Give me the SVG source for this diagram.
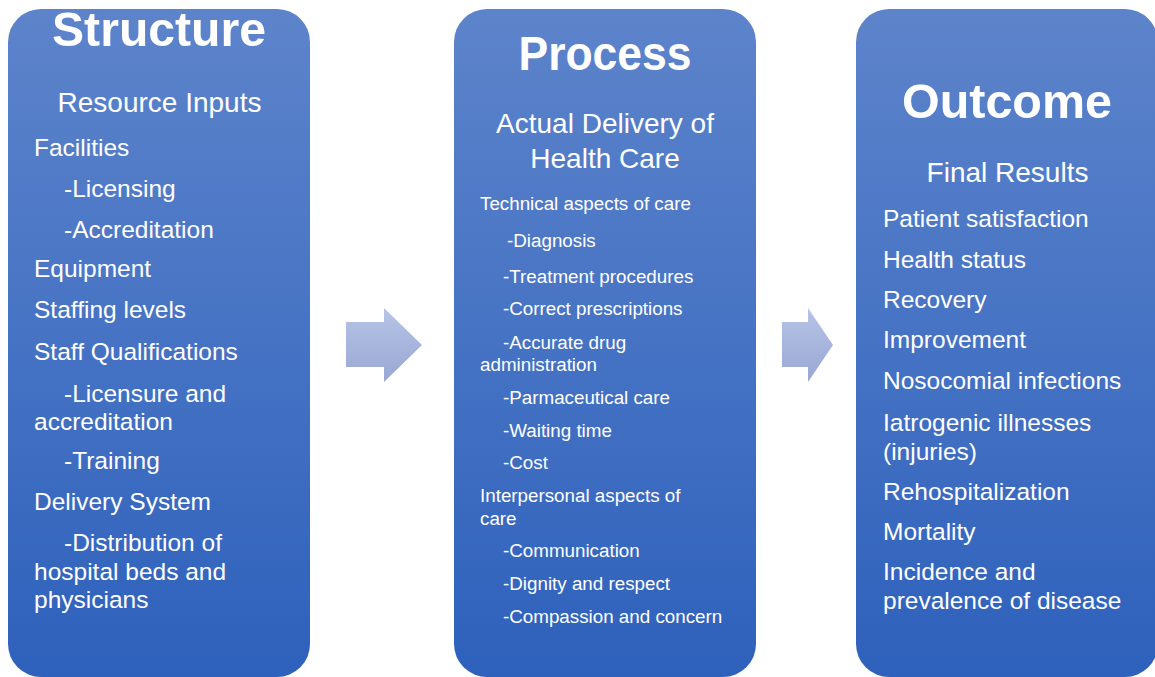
<svg xmlns="http://www.w3.org/2000/svg" width="1155" height="677" viewBox="0 0 1155 677">
<defs>
<linearGradient id="boxg" x1="0" y1="0" x2="0" y2="1">
<stop offset="0" stop-color="#5d84cb"/>
<stop offset="1" stop-color="#2e61bc"/>
</linearGradient>
<linearGradient id="arrg" x1="0" y1="0" x2="0" y2="1">
<stop offset="0" stop-color="#b7c4e6"/>
<stop offset="1" stop-color="#98a7d4"/>
</linearGradient>
<style>
.box{fill:url(#boxg);}
.arr{fill:url(#arrg);}
text{font-family:"Liberation Sans",Arial,sans-serif;fill:#ffffff;}
.title{font-weight:bold;font-size:48px;text-anchor:middle;}
.sub{font-size:28px;text-anchor:middle;}
.b{font-size:24.5px;}
.s{font-size:18.8px;}
</style>
</defs>
<rect width="1155" height="677" fill="#ffffff"/>
<g id="connectors">
<polygon class="arr" points="346,322 384,322 384,308 422,345 384,382 384,367 346,367"/>
<polygon class="arr" points="782,322 808,322 808,308 833,345 808,382 808,367 782,367"/>
</g>
<g id="structure">
<rect class="box" x="8" y="9" width="302" height="668" rx="33"/>
<text class="title" x="159" y="46" textLength="214" lengthAdjust="spacingAndGlyphs">Structure</text>
<text class="sub" x="159.5" y="112">Resource Inputs</text>
<text class="b" x="34" y="156">Facilities</text>
<text class="b" x="64" y="197">-Licensing</text>
<text class="b" x="64" y="238">-Accreditation</text>
<text class="b" x="34" y="277">Equipment</text>
<text class="b" x="34" y="318">Staffing levels</text>
<text class="b" x="34" y="360">Staff Qualifications</text>
<text class="b" x="64" y="402">-Licensure and</text>
<text class="b" x="34" y="430">accreditation</text>
<text class="b" x="64" y="469">-Training</text>
<text class="b" x="34" y="510">Delivery System</text>
<text class="b" x="64" y="551">-Distribution of</text>
<text class="b" x="34" y="580">hospital beds and</text>
<text class="b" x="34" y="608">physicians</text>
</g>
<g id="process">
<rect class="box" x="454" y="9" width="302" height="668" rx="33"/>
<text class="title" x="605" y="70" textLength="173" lengthAdjust="spacingAndGlyphs">Process</text>
<text class="sub" x="605" y="133">Actual Delivery of</text>
<text class="sub" x="605" y="168">Health Care</text>
<text class="s" x="480" y="210">Technical aspects of care</text>
<text class="s" x="507" y="247">-Diagnosis</text>
<text class="s" x="503" y="283">-Treatment procedures</text>
<text class="s" x="503" y="315">-Correct prescriptions</text>
<text class="s" x="503" y="349">-Accurate drug</text>
<text class="s" x="480" y="371">administration</text>
<text class="s" x="503" y="404">-Parmaceutical care</text>
<text class="s" x="503" y="437">-Waiting time</text>
<text class="s" x="503" y="469">-Cost</text>
<text class="s" x="480" y="502">Interpersonal aspects of</text>
<text class="s" x="480" y="525">care</text>
<text class="s" x="503" y="557">-Communication</text>
<text class="s" x="503" y="590">-Dignity and respect</text>
<text class="s" x="503" y="623">-Compassion and concern</text>
</g>
<g id="outcome">
<rect class="box" x="856" y="9" width="302" height="668" rx="33"/>
<text class="title" x="1007" y="118" textLength="210" lengthAdjust="spacingAndGlyphs">Outcome</text>
<text class="sub" x="1007.5" y="182">Final Results</text>
<text class="b" x="883" y="227">Patient satisfaction</text>
<text class="b" x="883" y="268">Health status</text>
<text class="b" x="883" y="308">Recovery</text>
<text class="b" x="883" y="348">Improvement</text>
<text class="b" x="883" y="389">Nosocomial infections</text>
<text class="b" x="883" y="431">Iatrogenic illnesses</text>
<text class="b" x="883" y="460">(injuries)</text>
<text class="b" x="883" y="500">Rehospitalization</text>
<text class="b" x="883" y="540">Mortality</text>
<text class="b" x="883" y="580">Incidence and</text>
<text class="b" x="883" y="609">prevalence of disease</text>
</g>
</svg>
